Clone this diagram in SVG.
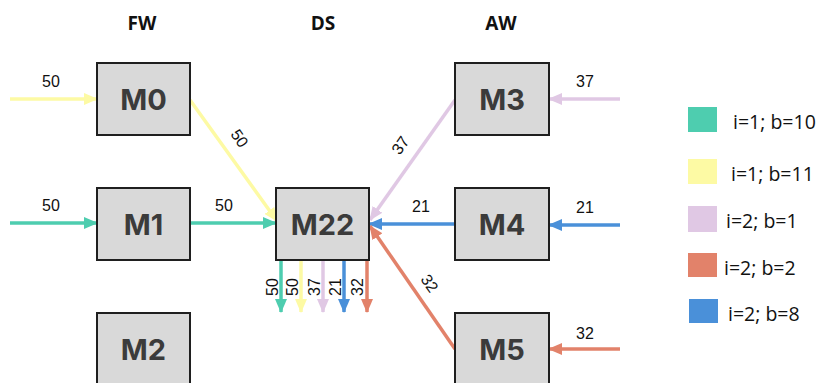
<svg xmlns="http://www.w3.org/2000/svg" width="824" height="383" viewBox="0 0 824 383">
  <style>
    .box { fill: #d9d9d9; stroke: #1f1f1f; stroke-width: 2; }
    .name { font-family: Inter, "Liberation Sans", sans-serif; font-weight: 700; font-size: 29px; fill: #3b3b3b; text-anchor: middle; dominant-baseline: central; }
    .hdr { font-family: "Open Sans", "Liberation Sans", sans-serif; font-weight: 700; font-size: 19px; fill: #111; text-anchor: middle; }
    .lbl { font-family: "Liberation Sans", Arial, sans-serif; font-size: 16px; fill: #111; text-anchor: middle; }
    .leg { font-family: "Open Sans", "Liberation Sans", sans-serif; font-size: 19.5px; fill: #111; }
    .e { fill: none; stroke-width: 3.5; }
    .teal { stroke: #4ecdaf; } .yel { stroke: #fdfaa4; } .lil { stroke: #e0c8e4; } .sal { stroke: #e2826a; } .blu { stroke: #4a90d9; }
  </style>
  <defs>
    <marker id="aTeal" markerUnits="userSpaceOnUse" markerWidth="14" markerHeight="12" refX="13" refY="6" orient="auto"><path d="M0,0 L14,6 L0,12 Z" fill="#4ecdaf"/></marker>
    <marker id="aYel" markerUnits="userSpaceOnUse" markerWidth="14" markerHeight="12" refX="13" refY="6" orient="auto"><path d="M0,0 L14,6 L0,12 Z" fill="#fdfaa4"/></marker>
    <marker id="aLil" markerUnits="userSpaceOnUse" markerWidth="14" markerHeight="12" refX="13" refY="6" orient="auto"><path d="M0,0 L14,6 L0,12 Z" fill="#e0c8e4"/></marker>
    <marker id="aSal" markerUnits="userSpaceOnUse" markerWidth="14" markerHeight="12" refX="13" refY="6" orient="auto"><path d="M0,0 L14,6 L0,12 Z" fill="#e2826a"/></marker>
    <marker id="aBlu" markerUnits="userSpaceOnUse" markerWidth="14" markerHeight="12" refX="13" refY="6" orient="auto"><path d="M0,0 L14,6 L0,12 Z" fill="#4a90d9"/></marker>
  </defs>

  <!-- column headers -->
  <text class="hdr" x="142" y="30">FW</text>
  <text class="hdr" x="323" y="30">DS</text>
  <text class="hdr" x="501" y="30">AW</text>

  <!-- connectors -->
  <g id="connectors">
    <line class="e yel" x1="10" y1="99" x2="97" y2="99" marker-end="url(#aYel)"/>
    <text class="lbl" x="51" y="87">50</text>
    <line class="e teal" x1="10" y1="223" x2="97" y2="223" marker-end="url(#aTeal)"/>
    <text class="lbl" x="51" y="211">50</text>
    <line class="e teal" x1="190" y1="223" x2="276" y2="223" marker-end="url(#aTeal)"/>
    <text class="lbl" x="224" y="211">50</text>
    <line class="e yel" x1="190" y1="100" x2="277" y2="221" marker-end="url(#aYel)"/>
    <text class="lbl" transform="translate(240,138) rotate(55)" y="6">50</text>

    <line class="e lil" x1="455" y1="100" x2="370" y2="220" marker-end="url(#aLil)"/>
    <text class="lbl" transform="translate(400,145) rotate(-55)" y="6">37</text>
    <line class="e blu" x1="455" y1="224" x2="369" y2="224" marker-end="url(#aBlu)"/>
    <text class="lbl" x="421" y="212">21</text>
    <line class="e sal" x1="455" y1="349" x2="370" y2="226" marker-end="url(#aSal)"/>
    <text class="lbl" transform="translate(430,283) rotate(55)" y="6">32</text>

    <line class="e lil" x1="620" y1="99" x2="549" y2="99" marker-end="url(#aLil)"/>
    <text class="lbl" x="585" y="87">37</text>
    <line class="e blu" x1="620" y1="225" x2="549" y2="225" marker-end="url(#aBlu)"/>
    <text class="lbl" x="585" y="213">21</text>
    <line class="e sal" x1="620" y1="349" x2="549" y2="349" marker-end="url(#aSal)"/>
    <text class="lbl" x="585" y="339">32</text>

    <line class="e teal" x1="281" y1="260" x2="281" y2="312" marker-end="url(#aTeal)"/>
    <line class="e yel" x1="301" y1="260" x2="301" y2="312" marker-end="url(#aYel)"/>
    <line class="e lil" x1="323" y1="260" x2="323" y2="312" marker-end="url(#aLil)"/>
    <line class="e blu" x1="344" y1="260" x2="344" y2="312" marker-end="url(#aBlu)"/>
    <line class="e sal" x1="367" y1="260" x2="367" y2="312" marker-end="url(#aSal)"/>
    <text class="lbl" transform="translate(272,287) rotate(-90)" y="6">50</text>
    <text class="lbl" transform="translate(292,287) rotate(-90)" y="6">50</text>
    <text class="lbl" transform="translate(314,287) rotate(-90)" y="6">37</text>
    <text class="lbl" transform="translate(335,287) rotate(-90)" y="6">21</text>
    <text class="lbl" transform="translate(357,287) rotate(-90)" y="6">32</text>
  </g>

  <!-- nodes -->
  <g id="M0"><rect class="box" x="97" y="63" width="93" height="72"/><text class="name" x="143.5" y="99">M0</text></g>
  <g id="M1"><rect class="box" x="97" y="188" width="93" height="72"/><text class="name" x="143.5" y="224">M1</text></g>
  <g id="M2"><rect class="box" x="97" y="313" width="93" height="72"/><text class="name" x="143.5" y="349">M2</text></g>
  <g id="M22"><rect class="box" x="276" y="188" width="93" height="72"/><text class="name" x="322.5" y="224">M22</text></g>
  <g id="M3"><rect class="box" x="455" y="63" width="94" height="72"/><text class="name" x="502" y="99">M3</text></g>
  <g id="M4"><rect class="box" x="455" y="188" width="94" height="72"/><text class="name" x="502" y="224">M4</text></g>
  <g id="M5"><rect class="box" x="455" y="313" width="94" height="72"/><text class="name" x="502" y="349">M5</text></g>

  <!-- legend -->
  <g id="legend">
    <rect x="688" y="107" width="29" height="25" fill="#4ecdaf"/>
    <text class="leg" x="733" y="129">i=1; b=10</text>
    <rect x="688" y="159" width="29" height="25" fill="#fdfaa4"/>
    <text class="leg" x="731" y="181">i=1; b=11</text>
    <rect x="688" y="206" width="29" height="26" fill="#e0c8e4"/>
    <text class="leg" x="726" y="228">i=2; b=1</text>
    <rect x="688" y="253" width="29" height="24" fill="#e2826a"/>
    <text class="leg" x="724" y="275">i=2; b=2</text>
    <rect x="689" y="299" width="29" height="24" fill="#4a90d9"/>
    <text class="leg" x="728" y="321">i=2; b=8</text>
  </g>
</svg>
